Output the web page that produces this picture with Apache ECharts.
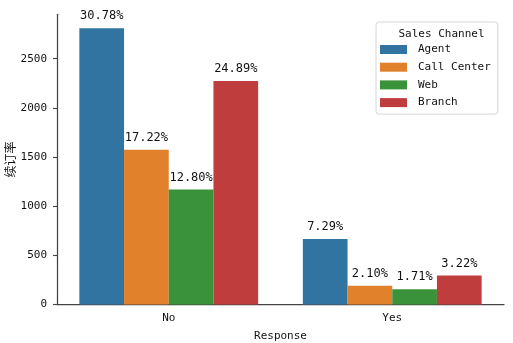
<!DOCTYPE html>
<html>
<head>
<meta charset="utf-8">
<script src="https://cdn.jsdelivr.net/npm/echarts@6/dist/echarts.min.js"></script>
<style>
  html, body { margin: 0; padding: 0; background: #fff; }
  #chart { width: 513px; height: 343px; }
</style>
</head>
<body>
<div id="chart"></div>
<script>
// Response categories on the x axis
const responses = ['No', 'Yes'];
// Sales channels (one bar series each)
const channels = ['Agent', 'Call Center', 'Web', 'Branch'];
// Customer counts per channel, ordered as [No, Yes]
const agentCounts = [2811, 666];
const callCenterCounts = [1573, 192];
const webCounts = [1169, 156];
const branchCounts = [2273, 294];
// Share of all customers, printed above each bar
const agentPct = ['30.78%', '7.29%'];
const callCenterPct = ['17.22%', '2.10%'];
const webPct = ['12.80%', '1.71%'];
const branchPct = ['24.89%', '3.22%'];
// Y axis ticks
const yTicks = [0, 500, 1000, 1500, 2000, 2500];

const palette = ['#3274a1', '#e1812c', '#3a923a', '#c03d3e'];
const mono = '"DejaVu Sans Mono", "Liberation Mono", monospace';

const seriesData = [agentCounts, callCenterCounts, webCounts, branchCounts];
const seriesPct = [agentPct, callCenterPct, webPct, branchPct];

const chart = echarts.init(document.getElementById('chart'), null, { renderer: 'canvas' });

chart.setOption({
  animation: false,
  backgroundColor: '#fff',
  color: palette,
  grid: { left: 57, right: 9, top: 14.3, bottom: 38.5, containLabel: false, outerBoundsMode: 'none' },
  title: {
    text: 'Sales Channel',
    left: 436.5,
    top: 24,
    textAlign: 'center',
    textStyle: { fontFamily: mono, fontSize: 11, fontWeight: 'normal', color: '#111' }
  },
  legend: {
    data: channels,
    orient: 'vertical',
    left: 376,
    top: 22,
    padding: [21.5, 7, 5.5, 4],
    itemWidth: 27,
    itemHeight: 9,
    itemGap: 5.7,
    icon: 'rect',
    borderColor: '#d6d6d6',
    borderWidth: 1,
    borderRadius: 3,
    textStyle: { fontFamily: mono, fontSize: 11, color: '#111', lineHeight: 12, padding: [0, 0, 0, 6] }
  },
  xAxis: {
    type: 'category',
    data: responses,
    name: 'Response',
    nameLocation: 'middle',
    nameGap: 26,
    nameMoveOverlap: false,
    nameTextStyle: { fontFamily: mono, fontSize: 11, color: '#111' },
    axisLine: { lineStyle: { color: '#444', width: 1.25 } },
    axisTick: { alignWithLabel: true, length: 4, lineStyle: { color: '#444', width: 1.1 } },
    axisLabel: { fontFamily: mono, fontSize: 11, color: '#111', margin: 8 }
  },
  yAxis: {
    type: 'value',
    min: 0,
    max: 2952,
    interval: 500,
    name: '续订率',
    nameLocation: 'middle',
    nameRotate: 90,
    nameGap: 41,
    nameMoveOverlap: false,
    nameTextStyle: { fontFamily: '"Noto Sans CJK SC", sans-serif', fontSize: 12, color: '#111' },
    axisLine: { show: true, lineStyle: { color: '#444', width: 1.25 } },
    axisTick: { show: true, length: 4, lineStyle: { color: '#444', width: 1.1 } },
    splitLine: { show: false },
    axisLabel: {
      fontFamily: mono, fontSize: 11, color: '#111', margin: 10,
      showMaxLabel: false,
      formatter: v => (yTicks.indexOf(v) >= 0 ? String(v) : '')
    }
  },
  series: channels.map((name, i) => ({
    name: name,
    type: 'bar',
    data: seriesData[i],
    barGap: '0%',
    barCategoryGap: '20%',
    itemStyle: { color: palette[i] },
    label: {
      show: true,
      position: 'top',
      distance: 6,
      fontFamily: mono,
      fontSize: 12,
      color: '#111',
      formatter: p => seriesPct[i][p.dataIndex]
    }
  }))
});
</script>
</body>
</html>
